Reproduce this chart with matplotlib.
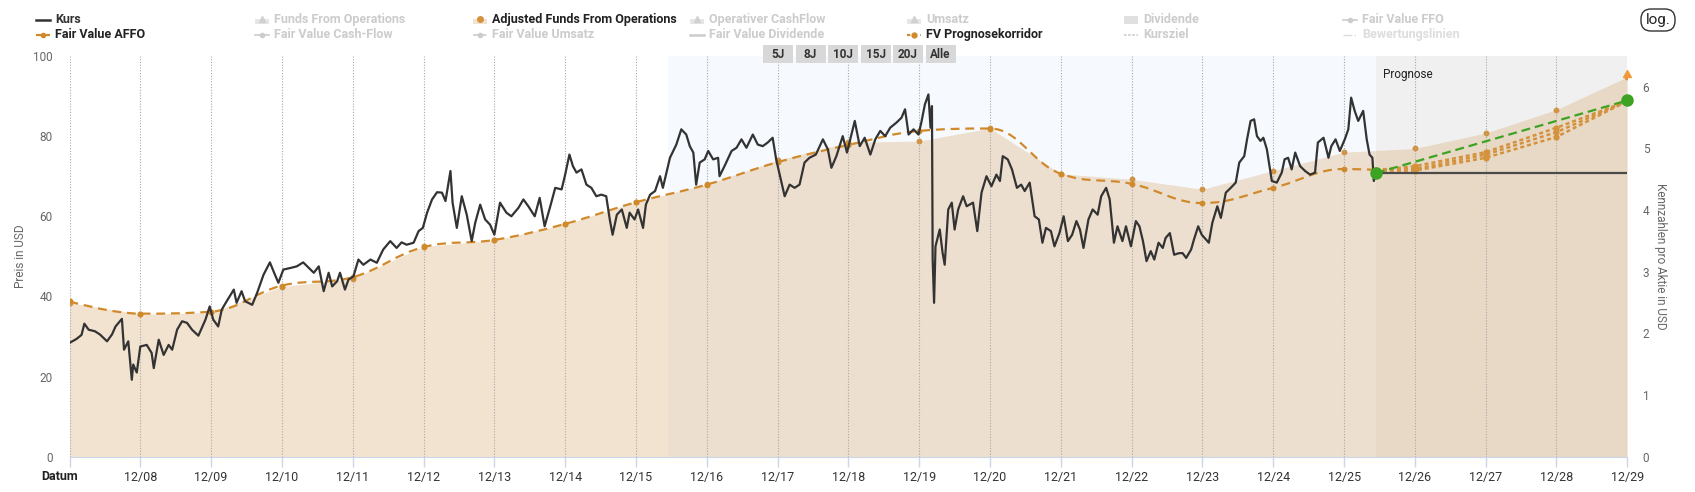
import matplotlib
matplotlib.use("Agg")
import matplotlib.pyplot as plt
from matplotlib.path import Path
from matplotlib.patches import PathPatch, Rectangle, FancyBboxPatch
from matplotlib.lines import Line2D

plt.rcParams['font.family'] = ['Roboto', 'DejaVu Sans']
NARROW = ['Liberation Sans Narrow', 'Roboto', 'DejaVu Sans']

# x axis: years since 12/07, one tick per year
tick_labels = ['', '12/08', '12/09', '12/10', '12/11', '12/12', '12/13', '12/14', '12/15',
               '12/16', '12/17', '12/18', '12/19', '12/20', '12/21', '12/22', '12/23',
               '12/24', '12/25', '12/26', '12/27', '12/28', '12/29']

# Kurs (USD)
kurs_t = [0.00, 0.10, 0.17, 0.21, 0.27, 0.36, 0.43, 0.53, 0.60, 0.65, 0.74, 0.77, 0.83, 0.88,
          0.90, 0.95, 1.00, 1.09, 1.16, 1.19, 1.26, 1.33, 1.40, 1.45, 1.52, 1.59, 1.66, 1.73,
          1.82, 1.92, 1.98, 2.03, 2.10, 2.15, 2.22, 2.32, 2.36, 2.43, 2.48, 2.58, 2.65, 2.74,
          2.83, 2.89, 2.95, 3.02, 3.12, 3.21, 3.30, 3.38, 3.45, 3.52, 3.59, 3.66, 3.71, 3.78,
          3.82, 3.89, 3.94, 4.01, 4.08, 4.15, 4.25, 4.34, 4.43, 4.53, 4.62, 4.69, 4.76, 4.86,
          4.93, 4.99, 5.05, 5.12, 5.19, 5.26, 5.31, 5.38, 5.41, 5.47, 5.54, 5.61, 5.68, 5.73,
          5.80, 5.87, 5.94, 6.00, 6.08, 6.17, 6.24, 6.34, 6.41, 6.48, 6.57, 6.64, 6.71, 6.79,
          6.86, 6.95, 7.00, 7.06, 7.11, 7.16, 7.23, 7.30, 7.37, 7.44, 7.51, 7.58, 7.63, 7.67,
          7.73, 7.80, 7.87, 7.91, 7.98, 8.03, 8.10, 8.14, 8.20, 8.27, 8.34, 8.38, 8.48, 8.57,
          8.64, 8.71, 8.76, 8.81, 8.85, 8.90, 8.97, 9.02, 9.09, 9.16, 9.18, 9.25, 9.35, 9.42,
          9.49, 9.56, 9.65, 9.72, 9.79, 9.86, 9.93, 9.98, 10.03, 10.10, 10.17, 10.24, 10.31,
          10.38, 10.45, 10.54, 10.64, 10.71, 10.76, 10.83, 10.92, 10.98, 11.09, 11.16, 11.23,
          11.31, 11.38, 11.45, 11.52, 11.59, 11.68, 11.75, 11.80, 11.85, 11.92, 11.99, 12.03,
          12.08, 12.13, 12.16, 12.18, 12.19, 12.21, 12.23, 12.29, 12.33, 12.36, 12.41, 12.46,
          12.50, 12.55, 12.62, 12.67, 12.76, 12.82, 12.88, 12.95, 13.02, 13.09, 13.14, 13.18,
          13.25, 13.31, 13.38, 13.44, 13.49, 13.56, 13.63, 13.69, 13.74, 13.79, 13.86, 13.91,
          13.98, 14.04, 14.10, 14.16, 14.22, 14.27, 14.32, 14.39, 14.45, 14.52, 14.57, 14.64,
          14.69, 14.75, 14.80, 14.87, 14.92, 14.99, 15.06, 15.11, 15.16, 15.21, 15.27, 15.32,
          15.38, 15.44, 15.48, 15.54, 15.60, 15.67, 15.72, 15.77, 15.84, 15.88, 15.94, 15.99,
          16.05, 16.09, 16.14, 16.21, 16.26, 16.33, 16.40, 16.47, 16.52, 16.59, 16.63, 16.68,
          16.73, 16.77, 16.82, 16.86, 16.91, 16.98, 17.05, 17.12, 17.16, 17.21, 17.26, 17.31,
          17.38, 17.45, 17.52, 17.59, 17.63, 17.71, 17.78, 17.82, 17.88, 17.94, 18.01, 18.06,
          18.10, 18.15, 18.20, 18.27, 18.32, 18.36, 18.40, 18.42, 18.45]
kurs_v = [28.4, 29.4, 30.4, 33.2, 31.7, 31.3, 30.5, 28.8, 30.5, 32.5, 34.4, 26.7, 28.8, 19.2,
          23.0, 21.0, 27.5, 27.9, 25.9, 22.1, 29.2, 25.4, 27.9, 26.7, 31.7, 33.8, 33.4, 31.7,
          30.2, 34.2, 37.5, 34.2, 32.5, 36.7, 38.8, 41.7, 38.4, 41.3, 38.8, 37.9, 40.9, 45.4,
          48.5, 45.9, 43.4, 46.7, 47.1, 47.5, 48.5, 47.1, 45.9, 47.5, 41.3, 45.9, 42.5, 43.8,
          45.9, 41.7, 44.2, 45.0, 49.2, 47.9, 49.2, 48.4, 51.7, 53.8, 52.1, 53.5, 52.9, 53.4,
          56.3, 57.1, 60.9, 64.2, 66.0, 65.9, 63.8, 71.3, 63.4, 57.1, 65.0, 60.4, 53.8, 58.4,
          62.9, 59.2, 57.9, 55.4, 63.4, 60.9, 60.0, 62.1, 64.2, 62.5, 60.0, 64.6, 57.5, 62.5,
          67.1, 66.7, 70.4, 75.4, 72.5, 70.9, 71.7, 67.9, 67.1, 65.0, 65.4, 65.0, 59.2, 55.4,
          60.4, 61.7, 57.1, 60.9, 59.2, 61.7, 57.1, 62.9, 65.4, 66.3, 70.0, 67.1, 74.6, 77.9,
          81.7, 80.4, 77.5, 75.9, 67.9, 73.4, 74.2, 76.3, 74.2, 74.6, 70.0, 72.5, 76.3, 77.1,
          79.2, 77.1, 80.4, 77.9, 77.5, 78.4, 79.6, 74.2, 70.4, 65.0, 67.9, 67.1, 67.9,
          73.4, 74.6, 75.4, 79.2, 76.7, 72.1, 75.0, 80.0, 75.9, 83.8, 77.5, 79.6,
          75.4, 79.2, 81.3, 80.0, 82.1, 83.4, 84.6, 86.7, 80.4, 81.7, 80.4, 83.4,
          87.9, 90.4, 82.1, 87.5, 49.2, 38.4, 52.5, 56.7, 50.9, 47.9, 61.7, 63.4,
          56.7, 61.7, 65.0, 62.5, 63.4, 56.3, 65.9, 70.0, 67.5, 70.4, 68.8, 75.0,
          74.2, 71.7, 67.1, 67.9, 66.3, 68.4, 60.0, 59.2, 53.4, 57.1, 56.3, 52.5,
          55.8, 60.0, 53.8, 55.4, 58.8, 56.7, 52.1, 59.2, 61.7, 60.4, 65.0, 67.1,
          64.2, 53.4, 57.5, 53.8, 57.5, 52.5, 58.8, 57.5, 53.8, 48.8, 51.3, 49.2,
          53.4, 52.1, 54.6, 55.8, 50.4, 50.8, 50.8, 49.6, 51.7, 54.2, 57.5, 55.4,
          54.2, 53.4, 58.4, 62.5, 59.6, 65.9, 67.1, 68.4, 73.4, 75.0, 79.2, 83.8,
          84.2, 80.0, 78.8, 79.6, 76.7, 68.8, 68.4, 70.9, 74.2, 74.6, 71.7, 75.9,
          72.5, 71.3, 70.4, 70.9, 78.4, 79.6, 74.6, 77.5, 79.2, 76.3, 79.2, 81.7,
          89.6, 86.3, 83.8, 86.3, 79.2, 75.4, 74.6, 68.8, 70.8]

# Adjusted Funds From Operations per share (right axis, USD), 12/07 .. 12/29
affo_t = list(range(23))
affo_v = [2.50, 2.31, 2.34, 2.76, 2.89, 3.41, 3.51, 3.77, 4.13, 4.42, 4.81, 5.10, 5.12,
          5.33, 4.59, 4.50, 4.34, 4.64, 4.94, 5.00, 5.25, 5.63, 6.16]

# Fair Value AFFO (left axis, USD)
fv_t = [0, 1, 2, 3, 4, 5, 6, 7, 8, 9, 10, 11, 12, 13, 14, 15, 16, 17, 18, 18.42]
fv_v = [38.75, 35.7, 36.2, 42.7, 44.8, 52.3, 54.1, 58.1, 63.5, 67.9, 73.5, 77.8, 81.3,
        81.9, 70.6, 68.1, 63.3, 67.1, 71.8, 71.6]

# FV Prognosekorridor (three paths) and forecast target
prog_t = [18.45, 19, 20, 21, 22]
prog_upper = [71.5, 72.5, 76.0, 82.1, 88.75]
prog_mid = [71.6, 71.8, 75.4, 81.0, 88.75]
prog_lower = [71.4, 71.4, 74.6, 79.8, 88.75]
fv_target = 88.9

range_buttons = ['5J', '8J', '10J', '15J', '20J', 'Alle']
selected_years = 10

ORANGE = '#d08a2c'
GREEN = '#3ca323'


def spline_path(xs, ys, smoothing=1.5):
    denom = smoothing + 1
    verts = [(xs[0], ys[0])]
    codes = [Path.MOVETO]
    right_prev = (xs[0], ys[0])
    for i in range(1, len(xs)):
        x, y = xs[i], ys[i]
        if i < len(xs) - 1:
            lx, ly = xs[i - 1], ys[i - 1]
            nx, ny = xs[i + 1], ys[i + 1]
            lcx = (smoothing * x + lx) / denom
            lcy = (smoothing * y + ly) / denom
            rcx = (smoothing * x + nx) / denom
            rcy = (smoothing * y + ny) / denom
            corr = ((rcy - lcy) * (rcx - x)) / (rcx - lcx) + y - rcy
            lcy += corr
            rcy += corr
            if lcy > ly and lcy > y:
                lcy = max(ly, y); rcy = 2 * y - lcy
            elif lcy < ly and lcy < y:
                lcy = min(ly, y); rcy = 2 * y - lcy
            if rcy > ny and rcy > y:
                rcy = max(ny, y); lcy = 2 * y - rcy
            elif rcy < ny and rcy < y:
                rcy = min(ny, y); lcy = 2 * y - rcy
        else:
            lcx, lcy, rcx, rcy = x, y, x, y
        verts += [right_prev, (lcx, lcy), (x, y)]
        codes += [Path.CURVE4] * 3
        right_prev = (rcx, rcy)
    return Path(verts, codes)


W, H = 1695, 492
fig = plt.figure(figsize=(W / 100, H / 100), dpi=100)
L, R, T, B = 69.5, 1627.3, 56, 456.7
ax = fig.add_axes([L / W, 1 - B / H, (R - L) / W, (B - T) / H])
ax2 = ax.twinx()
ax.set_zorder(ax2.get_zorder() + 1)
ax.patch.set_visible(False)

ax.set_xlim(0, len(tick_labels) - 1)
ax.set_ylim(0, 100)
ax2.set_ylim(0, 6.5)

# background bands: last 10 years and forecast
now_t = kurs_t[-1]
ax2.axvspan(now_t - selected_years, now_t, color='#f6fafe', zorder=0, lw=0)
ax2.axvspan(now_t, prog_t[-1], color='#f0f0f0', zorder=0, lw=0)

# AFFO area
ax2.fill_between(affo_t, affo_v, 0, color='#d8ab72', alpha=1 / 3, lw=0, zorder=1)
ax2.plot(affo_t, affo_v, ls='none', marker='o', ms=3.2, color='#d4923c', zorder=2)

# vertical grid
for i in range(len(tick_labels)):
    ax.axvline(i, color='#a8a8a8', lw=0.8, ls=(0, (1, 1.5)), zorder=1)

# Fair Value AFFO (spline)
ax.add_patch(PathPatch(spline_path(fv_t, fv_v), fill=False, edgecolor=ORANGE, lw=1.6,
                       ls=(0, (4, 2.6)), zorder=4))
ax.plot(fv_t[:-1], fv_v[:-1], ls='none', marker='o', ms=3.2, color=ORANGE, zorder=4)

# Prognosekorridor
for pv in (prog_upper, prog_mid, prog_lower):
    ax.plot(prog_t, pv, color='#d4923c', lw=1.8, ls=(0, (1.6, 1.2)), marker='o', ms=3.5,
            zorder=4)

# Kurs
ax.plot(kurs_t, kurs_v, color='#333333', lw=1.6, zorder=5)
ax.hlines(kurs_v[-1], now_t, prog_t[-1], color='#4a4a4a', lw=1.6, zorder=5)
ax.plot([now_t, prog_t[-1]], [kurs_v[-1], fv_target], color=GREEN, lw=1.6,
        ls=(0, (4, 2.2)), zorder=6)
ax.plot([now_t, prog_t[-1]], [kurs_v[-1], fv_target], ls='none', marker='o', ms=8,
        color=GREEN, zorder=7, clip_on=False)
tri = Path([(-1, 0), (1, 0), (0, 1.75), (-1, 0)], [1, 2, 2, 79])
ax2.plot([affo_t[-1]], [affo_v[-1]], marker=tri, ms=10, color='#f39b3c', ls='none',
         zorder=7, clip_on=False)
ax.annotate('Prognose', (now_t, 100), xytext=(5, -13), textcoords='offset points',
            fontsize=8.5, color='#222222', va='center', ha='left')

# axes styling
for a in (ax, ax2):
    for s in a.spines.values():
        s.set_visible(False)
ax.spines['bottom'].set_visible(True)
ax.spines['bottom'].set_color('#ccd6eb')
ax.set_xticks(range(len(tick_labels)))
ax.set_xticklabels(tick_labels, fontfamily=NARROW, fontsize=9, color='#333333')
ax.tick_params(axis='x', length=7, color='#ccd6eb', width=1, pad=3)
ax.set_yticks(range(0, 101, 20))
ax.tick_params(axis='y', length=0, pad=12, labelsize=8.5, labelcolor='#666666')
ax2.set_yticks(range(7))
ax2.tick_params(axis='y', length=0, pad=11, labelsize=8.5, labelcolor='#666666')

fig.text(41 / W, 1 - 476 / H, 'Datum', fontfamily=NARROW, fontweight='bold', fontsize=9,
         color='#222222', va='center')
fig.text(20.5 / W, 1 - 256 / H, 'Preis in USD', rotation=90, fontsize=8.5, color='#666666',
         va='center', ha='center')
fig.text(1661 / W, 1 - 256 / H, 'Kennzahlen pro Aktie in USD', rotation=270, fontsize=8.5,
         color='#666666', va='center', ha='center')

# legend
legend_rows = [
    [('Kurs', 'line', '#333333', True), ('Funds From Operations', 'area', '#cccccc', False),
     ('Adjusted Funds From Operations', 'area_on', '#222222', True),
     ('Operativer CashFlow', 'area', '#cccccc', False), ('Umsatz', 'area', '#cccccc', False),
     ('Dividende', 'bar', '#cccccc', False), ('Fair Value FFO', 'mline', '#cccccc', False)],
    [('Fair Value AFFO', 'dash_on', '#222222', True),
     ('Fair Value Cash-Flow', 'mline', '#cccccc', False),
     ('Fair Value Umsatz', 'mdash', '#cccccc', False),
     ('Fair Value Dividende', 'line', '#cccccc', False),
     ('FV Prognosekorridor', 'dot_on', '#222222', True),
     ('Kursziel', 'dots', '#cccccc', False), ('Bewertungslinien', 'dashdot', '#dddddd', False)],
]
col_x = [36, 255, 473, 690, 907, 1124, 1343]
row_y = [19.5, 34.6]


def fx(px):
    return px / W


def fy(py):
    return 1 - py / H


for r, row in enumerate(legend_rows):
    y = row_y[r]
    for c, (label, kind, tcol, active) in enumerate(row):
        x0 = col_x[c]
        if kind == 'line':
            col = '#333333' if active else '#cccccc'
            fig.add_artist(Line2D([fx(x0), fx(x0 + 14)], [fy(y), fy(y)], color=col, lw=1.8))
        elif kind in ('area', 'area_on'):
            fc = '#f2e3d0' if kind == 'area_on' else '#e6e6e6'
            fig.add_artist(Rectangle((fx(x0), fy(y + 4)), 14 / W, 5 / H, color=fc, lw=0))
            fig.add_artist(Line2D([fx(x0 + 7)], [fy(y - 1)], marker='^' if kind == 'area' else 'o',
                                  ms=4, color='#d4923c' if kind == 'area_on' else '#d0d0d0',
                                  ls='none'))
        elif kind == 'bar':
            fig.add_artist(Rectangle((fx(x0), fy(y + 4)), 14 / W, 7 / H, color='#e0e0e0', lw=0))
        elif kind == 'mline':
            fig.add_artist(Line2D([fx(x0), fx(x0 + 14)], [fy(y), fy(y)], color='#cccccc',
                                  lw=1.2))
            fig.add_artist(Line2D([fx(x0 + 7)], [fy(y)], color='#cccccc', marker='o', ms=3))
        elif kind == 'mdash':
            fig.add_artist(Line2D([fx(x0), fx(x0 + 14)], [fy(y), fy(y)], color='#cccccc',
                                  lw=1.2, ls=(0, (3, 2))))
            fig.add_artist(Line2D([fx(x0 + 7)], [fy(y)], color='#cccccc', marker='o', ms=3))
        elif kind == 'dash_on':
            fig.add_artist(Line2D([fx(x0), fx(x0 + 14)], [fy(y), fy(y)], color=ORANGE,
                                  lw=1.6, ls=(0, (3, 1.5))))
            fig.add_artist(Line2D([fx(x0 + 7)], [fy(y)], color=ORANGE, marker='o', ms=3))
        elif kind == 'dot_on':
            fig.add_artist(Line2D([fx(x0), fx(x0 + 14)], [fy(y), fy(y)], color=ORANGE,
                                  lw=1.6, ls=(0, (1.5, 1.5))))
            fig.add_artist(Line2D([fx(x0 + 7)], [fy(y)], color=ORANGE, marker='o', ms=3.5))
        elif kind == 'dots':
            fig.add_artist(Line2D([fx(x0), fx(x0 + 14)], [fy(y), fy(y)], color='#cccccc',
                                  lw=1.2, ls=(0, (1.5, 1))))
        elif kind == 'dashdot':
            fig.add_artist(Line2D([fx(x0), fx(x0 + 14)], [fy(y), fy(y)], color='#dddddd',
                                  lw=1.0, ls='-.'))
        fig.text(fx(x0 + 19), fy(y), label, fontfamily=NARROW, fontweight='bold',
                 fontsize=9, color=tcol, va='center', ha='left')

# range selector buttons
bx = 763
for lab in range_buttons:
    fig.add_artist(Rectangle((fx(bx), fy(63)), 30 / W, 18 / H, color='#d8d8d8', lw=0,
                             zorder=10))
    fig.text(fx(bx + 15), fy(54), lab, fontfamily=NARROW, fontweight='bold', fontsize=8.5,
             color='#333333', ha='center', va='center', zorder=11)
    bx += 32.5

# log. switch (drawn in inches so the corners stay round)
fig.add_artist(FancyBboxPatch((16.41, (H - 31) / 100), 0.34, 0.22,
                              boxstyle='round,pad=0,rounding_size=0.1',
                              transform=fig.dpi_scale_trans,
                              facecolor='white', edgecolor='#333333', lw=1))
fig.text(fx(1658), fy(20), 'log.', fontfamily=NARROW, fontsize=11, color='#222222',
         ha='center', va='center')

fig.savefig('out.png', dpi=100)
